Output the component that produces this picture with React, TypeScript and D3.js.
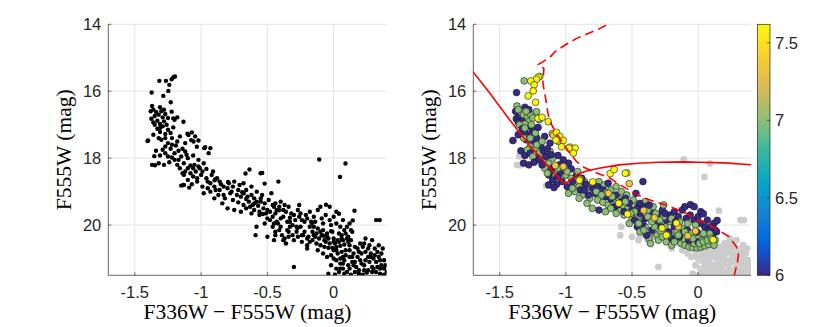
import React from "react";
import * as d3 from "d3";

// axis ticks
const xTicks = [-1.5, -1, -0.5, 0];
const yTicks = [14, 16, 18, 20];
const cbTicks = [6, 6.5, 7, 7.5];

// log(age) of each population, coloured through parula
const AGE_YOUNG = 6.0;
const AGE_MID = 7.0;
const AGE_OLDER = 7.34;
const AGE_OLDEST = 7.6;

// [F336W - F555W, F555W]
const youngStars = [
  [-1.373, 16.04], [-1.31, 16.48], [-1.375, 16.82], [-1.35, 16.74], [-1.33, 16.88], [-1.36, 16.93],
  [-1.29, 17.05], [-1.31, 17.22], [-1.25, 17.15], [-1.27, 17.28], [-1.22, 17.4], [-1.4, 17.47],
  [-1.3, 17.45], [-1.25, 17.55], [-1.19, 17.62], [-1.34, 17.78], [-1.31, 17.92], [-1.27, 17.85],
  [-1.22, 17.98], [-1.32, 18.15], [-1.28, 18.2], [-1.24, 18.12], [-1.2, 18.05], [-1.17, 17.78],
  [-1.14, 17.72], [-1.15, 17.95], [-1.11, 17.9], [-1.18, 18.2],
  [-1.1, 18.3], [-1.13, 18.5], [-1.1, 18.65], [-1.07, 18.78], [-1.09, 18.88], [-1.13, 18.8],
  [-1.06, 18.55], [-1.04, 18.4], [-0.96, 18.32], [-0.98, 18.15], [-1.02, 18.05], [-1.06, 17.92],
  [-0.92, 18.5], [-0.88, 18.6], [-0.95, 18.7], [-0.85, 18.78], [-0.8, 18.9], [-0.76, 18.85],
  [-0.72, 18.95], [-0.78, 19.05], [-0.7, 19.15], [-0.66, 19.22], [-0.62, 19.1], [-0.58, 19.3],
  [-0.55, 19.2], [-0.75, 19.55], [-0.63, 19.45], [-0.52, 19.35], [-0.417, 18.7], [-0.47, 19.05],
  [-0.5, 19.55], [-0.45, 19.45], [-0.89, 18.95], [-0.83, 19.1], [-0.41, 19.45], [-0.44, 19.35],
  [-0.44, 19.65], [-0.4, 19.8], [-0.36, 19.6], [-0.33, 19.9], [-0.3, 19.7], [-0.27, 19.55],
  [-0.24, 19.85], [-0.21, 19.7], [-0.18, 19.6], [-0.15, 19.75], [-0.12, 19.55], [-0.09, 19.8],
  [-0.1, 19.45], [-0.06, 19.7], [-0.03, 19.85], [0.0, 19.75], [0.02, 19.95], [0.05, 20.05],
  [0.08, 20.15], [0.12, 19.95], [0.14, 20.2], [0.11, 20.35], [0.06, 20.4], [0.0, 20.5],
  [-0.05, 20.35], [-0.08, 20.15], [-0.13, 20.25], [-0.18, 20.05], [-0.22, 20.2], [-0.28, 20.05],
  [-0.35, 20.15], [-0.39, 20.3], [-0.46, 20.05], [-0.42, 19.95], [-0.058, 19.39], [-0.03, 19.45],
  [0.02, 19.6], [0.04, 19.66], [0.144, 19.86], [0.13, 20.15], [-0.01, 20.2], [-0.2, 20.4],
  [-1.38, 16.6], [-1.28, 16.55], [-1.33, 17.12], [-1.36, 17.3], [-1.21, 17.08], [-1.16, 17.35],
  [-1.12, 17.55], [-1.05, 18.2], [-1.12, 18.4], [-1.03, 18.7], [-0.99, 18.85], [-0.86, 18.95],
  [-0.68, 18.75], [-0.61, 19.4], [-0.56, 19.6], [-0.48, 19.85], [-0.37, 19.4], [-0.31, 20.0],
  [-0.25, 19.65], [-0.17, 19.9], [-0.14, 20.35], [0.07, 19.85], [0.1, 20.05], [-0.07, 20.45],
];

const midStars = [
  [-1.315, 15.69], [-1.37, 16.44], [-1.222, 16.61], [-1.34, 16.62], [-1.32, 16.7], [-1.29, 16.78],
  [-1.27, 16.68], [-1.28, 16.9], [-1.31, 16.98], [-1.26, 17.0], [-1.35, 17.0], [-1.2, 16.85],
  [-1.23, 17.25], [-1.32, 17.4], [-1.27, 17.65], [-1.23, 17.72], [-1.29, 17.75], [-1.2, 17.85],
  [-1.25, 17.95], [-1.17, 18.05], [-1.13, 18.15], [-1.16, 18.3], [-1.22, 17.6], [-1.12, 17.8],
  [-1.1, 18.0],
  [-1.08, 18.45], [-1.03, 18.6], [-1.0, 18.5], [-0.96, 18.6], [-0.93, 18.75], [-0.9, 18.85],
  [-0.86, 18.7], [-0.83, 18.85], [-0.79, 18.75], [-0.75, 18.7], [-0.71, 18.8], [-0.98, 19.05],
  [-0.93, 19.0], [-0.87, 19.1], [-0.82, 19.2], [-0.76, 19.25], [-0.72, 19.32], [-0.68, 19.4],
  [-0.64, 19.3], [-0.6, 19.2], [-0.57, 19.42], [-0.53, 19.5], [-0.6, 19.55], [-0.69, 19.02],
  [-0.66, 18.95], [-0.58, 19.0], [-0.54, 19.1], [-0.49, 19.25], [-0.46, 19.4], [-0.43, 19.55],
  [-0.4, 19.3], [-0.84, 19.35], [-1.01, 18.3], [-0.91, 18.4], [-0.8, 19.5], [-0.7, 19.6],
  [-0.46, 19.75], [-0.43, 19.9], [-0.4, 20.05], [-0.37, 20.4], [-0.34, 20.2], [-0.31, 20.3],
  [-0.28, 20.2], [-0.25, 20.05], [-0.22, 19.9], [-0.19, 20.35], [-0.16, 20.45], [-0.13, 20.55],
  [-0.1, 20.6], [-0.07, 20.65], [-0.04, 20.68], [-0.01, 20.68], [0.02, 20.66], [0.05, 20.62],
  [0.08, 20.58], [0.11, 20.5], [0.13, 20.45], [-0.12, 20.1], [-0.09, 20.3], [-0.06, 20.5],
  [-0.03, 20.55], [0.0, 20.4], [0.03, 20.45], [0.06, 20.3], [0.09, 20.25], [-0.2, 19.8],
  [-0.26, 19.75], [-0.32, 19.65], [-0.38, 19.55], [-0.48, 19.6], [-0.5, 19.8], [-0.44, 20.2],
  [-0.3, 20.45], [-0.24, 20.5], [-0.16, 20.2], [-0.14, 19.9], [-0.08, 19.95], [-0.02, 20.0],
  [0.04, 20.25], [-0.34, 19.45], [-0.26, 19.4], [-0.52, 19.95], [-0.36, 20.55], [-0.2, 20.6],
  [-0.11, 20.4], [-0.56, 19.7], [-0.62, 19.65], [-0.66, 19.5],
  [-1.36, 16.55], [-1.3, 16.6], [-1.25, 16.8], [-1.31, 17.1], [-1.27, 17.4], [-1.18, 17.5],
  [-1.14, 18.45], [-1.06, 18.3], [-0.99, 18.4], [-0.95, 18.9], [-0.9, 19.2], [-0.77, 19.0],
  [-0.73, 19.1], [-0.65, 19.15], [-0.62, 18.85], [-0.55, 19.3], [-0.51, 19.65], [-0.45, 19.95],
  [-0.41, 20.15], [-0.38, 19.75], [-0.33, 20.05], [-0.29, 19.85], [-0.23, 20.3], [-0.18, 20.5],
  [-0.15, 20.3], [-0.1, 20.2], [-0.05, 20.25], [-0.04, 20.4], [0.01, 20.55], [0.04, 20.5],
  [0.07, 20.45], [0.1, 20.4], [0.12, 20.6], [-0.27, 20.35], [-0.35, 19.9],
];

const olderStars = [
  [-1.103, 17.27], [-1.057, 17.5], [-1.095, 17.31], [-1.02, 18.25], [-1.08, 18.22],
  [-0.521, 18.76], [-0.678, 19.05], [-0.412, 19.56], [-0.078, 20.32], [-0.15, 20.05],
  [-0.02, 20.18], [-0.33, 19.78],
];

const oldestStars = [
  [-1.197, 15.56], [-1.209, 15.58], [-1.222, 15.64], [-1.265, 15.69], [-1.24, 15.81],
  [-1.247, 15.99], [-1.285, 16.14], [-1.229, 16.33], [-1.21, 16.81], [-1.18, 16.78],
  [-1.133, 16.91], [-1.07, 17.23], [-1.045, 17.35], [-1.02, 17.47], [-1.075, 17.46],
  [-1.032, 17.66], [-0.969, 17.67], [-0.93, 17.7], [-0.943, 17.85], [-0.976, 17.7],
  [-0.893, 18.63], [-0.898, 18.66], [-0.797, 18.71], [-0.665, 18.46], [-0.635, 18.34],
  [-0.539, 18.44], [-0.551, 18.45], [-0.534, 19.67], [-0.273, 20.09], [-0.164, 19.94],
  [0.114, 20.44], [-0.24, 20.3], [-0.6, 19.35],
];

const fieldStars = [
  [-1.404, 17.49], [-1.353, 17.94], [-1.37, 18.2], [-1.348, 18.21], [-1.133, 18.8],
  [-1.15, 18.82], [-0.582, 20.05], [-0.589, 20.3], [-0.44, 20.3], [-0.34, 20.35],
  [-0.3, 21.25], [-0.109, 18.04], [0.089, 18.16], [0.048, 18.56], [0.157, 19.57],
  [0.32, 19.85], [0.347, 19.85],
  [0.0, 20.75], [0.03, 20.85], [0.06, 20.8], [0.09, 20.9], [0.12, 20.75], [0.15, 20.85],
  [0.18, 20.7], [0.2, 20.55], [0.22, 20.65], [0.24, 20.8], [0.26, 20.95], [0.28, 20.85],
  [0.3, 21.0], [0.32, 21.1], [0.34, 20.95], [0.36, 21.2], [0.38, 21.3], [0.4, 21.4],
  [0.02, 21.05], [0.05, 21.15], [0.08, 21.05], [0.11, 21.2], [0.14, 21.1], [0.17, 21.25],
  [0.2, 21.05], [0.23, 21.2], [0.26, 21.35], [0.29, 21.25], [0.32, 21.4], [0.35, 21.45],
  [0.38, 21.48], [0.1, 21.4], [0.13, 21.48], [0.16, 21.4], [0.19, 21.45], [0.22, 21.48],
  [0.25, 21.42], [0.04, 21.4], [0.07, 21.3], [-0.02, 21.2], [-0.05, 20.95], [0.0, 21.0],
  [0.14, 20.95], [0.18, 20.95], [0.21, 20.85], [0.27, 20.6], [0.31, 20.7], [0.34, 20.6],
  [0.29, 20.45], [0.24, 20.4], [0.36, 20.85], [0.38, 21.05], [0.33, 21.25], [0.27, 21.1],
  [0.12, 20.95], [0.07, 20.95], [-0.08, 20.85], [0.16, 21.1], [0.3, 21.3],
  [-0.02, 20.9], [0.02, 20.75], [0.05, 21.3], [0.08, 21.45], [0.12, 21.3], [0.15, 21.2],
  [0.19, 21.35], [0.21, 21.15], [0.24, 21.05], [0.28, 20.95], [0.31, 20.9], [0.33, 20.8],
  [0.35, 21.05], [0.37, 20.7], [0.39, 21.2], [0.26, 20.7], [0.23, 20.55], [0.19, 20.8],
  [0.16, 20.65], [0.09, 20.75], [0.05, 21.0], [0.02, 21.3], [-0.04, 21.45], [0.01, 21.48],
  [0.07, 21.15], [0.35, 21.3], [0.29, 21.4], [0.23, 21.35], [-0.12, 20.75], [-0.2, 20.7],
  [-0.5, 20.35], [-0.38, 20.45], [-0.45, 20.45],
];

// isochrones
const zamsLine = [
  [-1.72, 15.3], [-1.703, 15.415], [-1.576, 16.05], [-1.424, 16.86], [-1.272, 17.63],
  [-1.136, 18.23], [-1.02, 18.73], [-0.985, 18.71], [-0.955, 18.62], [-0.906, 18.47],
  [-0.85, 18.39], [-0.75, 18.3], [-0.6, 18.2], [-0.45, 18.15], [-0.3, 18.12], [-0.1, 18.11],
  [0.0, 18.12], [0.2, 18.14], [0.42, 18.2],
];
const isoLine = [
  [-0.6, 13.85], [-0.69, 14.02], [-0.766, 14.17], [-0.918, 14.42], [-0.994, 14.59],
  [-1.083, 14.82], [-1.121, 14.99], [-1.209, 15.2], [-1.166, 15.32], [-1.174, 15.75],
  [-1.151, 16.26], [-1.133, 16.71], [-1.108, 17.0], [-1.07, 17.27], [-1.03, 17.5],
  [-0.98, 17.8], [-0.92, 18.1], [-0.86, 18.28], [-0.76, 18.45], [-0.665, 18.6], [-0.59, 18.8],
  [-0.475, 19.06], [-0.4, 19.2], [-0.324, 19.3], [-0.21, 19.45], [-0.096, 19.64],
  [-0.008, 19.84], [0.106, 20.04], [0.232, 20.34], [0.29, 20.65], [0.305, 20.9],
  [0.296, 21.14], [0.27, 21.55],
];

const PARULA = ["#352a87", "#0363e1", "#1485d4", "#06a7c6", "#38b99e", "#92bf73", "#d9ba56", "#fcce2e", "#f9fb0e"];
const parula = d3.piecewise(d3.interpolateRgb, PARULA);

const TOP = 24.3;
const BOTTOM = 275.3;
const AX = "#262626";
const SANS = "Liberation Sans, Arial, sans-serif";
const SERIF = "Liberation Serif, Times New Roman, serif";

function Axes({ x0, x1, id, children }) {
  const x = d3.scaleLinear().domain([-1.7, 0.4]).range([x0, x1]);
  const y = d3.scaleLinear().domain([14, 21.5]).range([TOP, BOTTOM]);
  return (
    <g>
      <defs>
        <clipPath id={id}>
          <rect x={x0} y={TOP} width={x1 - x0} height={BOTTOM - TOP} />
        </clipPath>
      </defs>
      {xTicks.map(t => (
        <line key={"gx" + t} x1={x(t)} x2={x(t)} y1={TOP} y2={BOTTOM} stroke="#e4e4e4" strokeWidth={1} />
      ))}
      {yTicks.map(t => (
        <line key={"gy" + t} x1={x0} x2={x1} y1={y(t)} y2={y(t)} stroke="#e4e4e4" strokeWidth={1} />
      ))}
      <g clipPath={`url(#${id})`}>{children(x, y)}</g>
      <line x1={x0} x2={x1} y1={BOTTOM} y2={BOTTOM} stroke={AX} strokeWidth={0.7} />
      <line x1={x0} x2={x0} y1={TOP} y2={BOTTOM} stroke={AX} strokeWidth={0.7} />
      {xTicks.map(t => (
        <g key={"tx" + t}>
          <line x1={x(t)} x2={x(t)} y1={BOTTOM} y2={BOTTOM - 3} stroke={AX} strokeWidth={0.7} />
          <text x={x(t)} y={BOTTOM + 23} textAnchor="middle" fontSize={16.5} fill={AX} fontFamily={SANS}>
            {t}
          </text>
        </g>
      ))}
      {yTicks.map(t => (
        <g key={"ty" + t}>
          <line x1={x0} x2={x0 + 3} y1={y(t)} y2={y(t)} stroke={AX} strokeWidth={0.7} />
          <text x={x0 - 7} y={y(t) + 6} textAnchor="end" fontSize={16.5} fill={AX} fontFamily={SANS}>
            {t}
          </text>
        </g>
      ))}
      <text x={(x0 + x1) / 2} y={319} textAnchor="middle" fontSize={21.5} fill="#000" fontFamily={SERIF}>
        F336W − F555W (mag)
      </text>
      <text
        transform={`translate(${x0 - 37},${(TOP + BOTTOM) / 2}) rotate(-90)`}
        textAnchor="middle"
        fontSize={21.5}
        fill="#000"
        fontFamily={SERIF}
      >
        F555W (mag)
      </text>
    </g>
  );
}

export default function App() {
  const ageScale = d3.scaleLinear().domain([6, 7.62]).range([0, 1]).clamp(true);
  const colorOf = (age: number) => parula(ageScale(age));

  // young and intermediate stars are drawn interleaved so neither hides the other
  const tagged = (stars, age) => stars.map(d => ({ c: d[0], m: d[1], age }));
  const young = tagged(youngStars, AGE_YOUNG);
  const mid = tagged(midStars, AGE_MID);
  const mixed = [];
  for (let i = 0; i < Math.max(young.length, mid.length); i++) {
    if (i < young.length) mixed.push(young[i]);
    if (i < mid.length) mixed.push(mid[i]);
  }
  const colored = [...mixed, ...tagged(olderStars, AGE_OLDER), ...tagged(oldestStars, AGE_OLDEST)];
  const allStars = [...fieldStars, ...youngStars, ...midStars, ...olderStars, ...oldestStars];

  const cbX0 = 757.3;
  const cbX1 = 770;
  const cbY = d3.scaleLinear().domain([6, 7.62]).range([BOTTOM, TOP]);
  const gradStops = d3.range(0, 1.0001, 0.05);

  return (
    <div style={{ position: "absolute", left: 0, top: 0 }}>
      <svg width={830} height={327} style={{ display: "block", background: "#fff" }}>
        <Axes x0={108.3} x1={386.7} id="clipL">
          {(x, y) =>
            allStars.map((d, i) => <circle key={i} cx={x(d[0])} cy={y(d[1])} r={2.2} fill="#000" />)
          }
        </Axes>
        <Axes x0={473.3} x1={751} id="clipR">
          {(x, y) => {
            const line = d3.line().x(d => x(d[0])).y(d => y(d[1]));
            return (
              <g>
                {fieldStars.map((d, i) => (
                  <circle key={"f" + i} cx={x(d[0])} cy={y(d[1])} r={3.4} fill="#cccccc" />
                ))}
                {colored.map((d, i) => (
                  <circle
                    key={"s" + i}
                    cx={x(d.c)}
                    cy={y(d.m)}
                    r={3.4}
                    fill={colorOf(d.age)}
                    stroke="#1a1a1a"
                    strokeWidth={0.6}
                  />
                ))}
                <path d={line(zamsLine)} fill="none" stroke="#ff0000" strokeWidth={1.6} />
                <path d={line(isoLine)} fill="none" stroke="#ff0000" strokeWidth={1.6} strokeDasharray="9 5" />
              </g>
            );
          }}
        </Axes>
        <defs>
          <linearGradient id="cbGrad" x1="0" y1="1" x2="0" y2="0">
            {gradStops.map(s => (
              <stop key={s} offset={s} stopColor={parula(s)} />
            ))}
          </linearGradient>
        </defs>
        <rect x={cbX0} y={TOP} width={cbX1 - cbX0} height={BOTTOM - TOP} fill="url(#cbGrad)" stroke={AX} strokeWidth={0.7} />
        {cbTicks.map(t => (
          <g key={"cb" + t}>
            <line x1={cbX1} x2={cbX1 - 3} y1={cbY(t)} y2={cbY(t)} stroke={AX} strokeWidth={0.7} />
            <text x={cbX1 + 5} y={cbY(t) + 6} fontSize={16.5} fill={AX} fontFamily={SANS}>
              {t}
            </text>
          </g>
        ))}
      </svg>
    </div>
  );
}
